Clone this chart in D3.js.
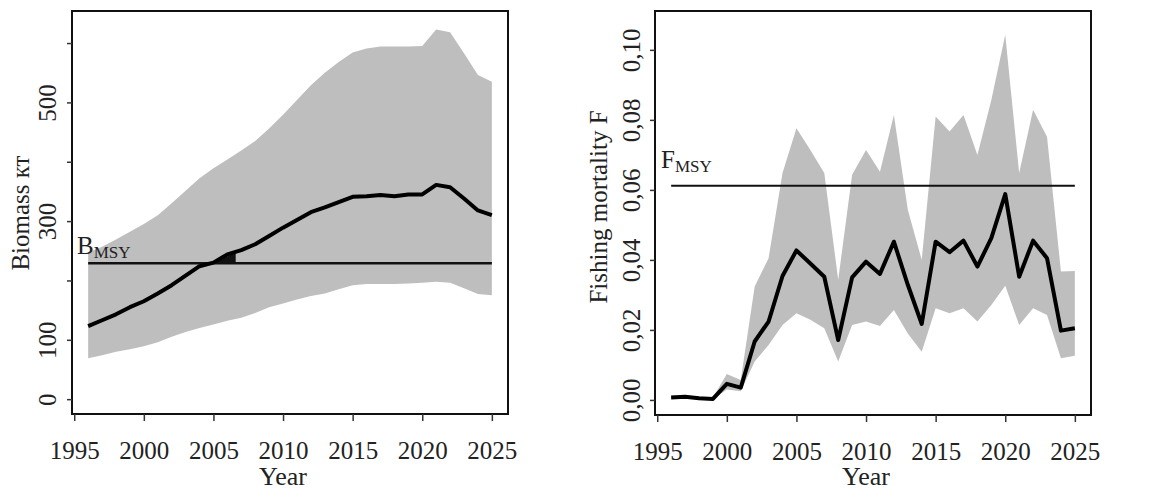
<!DOCTYPE html>
<html>
<head>
<meta charset="utf-8">
<script src="https://cdn.jsdelivr.net/npm/d3@7"></script>
<style>
  body { margin: 0; background: #fff; }
  svg { display: block; font-family: "Liberation Serif", "DejaVu Serif", serif; }
</style>
</head>
<body>
<svg id="chart" width="1158" height="491"></svg>
<script>
const YEARS = d3.range(1996, 2026);

const BIOMASS = [123, 133, 143, 155, 165, 178, 192, 208, 224, 230,
  244, 251, 261, 275, 289, 302, 315, 323, 332, 341,
  342, 344, 342, 345, 345, 361, 357, 338, 318, 310];
const BIOMASS_HI = [247, 257, 269, 282, 295, 310, 330, 351, 372, 389,
  404, 419, 435, 456, 479, 504, 529, 550, 568, 584,
  591, 594, 594, 594, 595, 623, 618, 583, 546, 535];
const BIOMASS_LO = [69, 74, 80, 84, 89, 96, 105, 113, 120, 126,
  132, 137, 145, 155, 161, 168, 174, 178, 185, 192,
  194, 194, 194, 195, 196, 198, 196, 187, 177, 175];
const B_MSY = 229;

const FMORT = [0.0007, 0.0009, 0.0005, 0.0003, 0.0046, 0.0035, 0.0167, 0.0224, 0.0354, 0.0427,
  0.0390, 0.0352, 0.0171, 0.0350, 0.0395, 0.0360, 0.0452, 0.0329, 0.0217, 0.0452,
  0.0422, 0.0455, 0.0381, 0.0462, 0.0588, 0.0352, 0.0455, 0.0405, 0.0198, 0.0205];
const FMORT_HI = [0.0012, 0.0013, 0.0009, 0.0007, 0.0074, 0.0057, 0.0324, 0.0405, 0.0648, 0.0776,
  0.0714, 0.0648, 0.0343, 0.0643, 0.0714, 0.0652, 0.0814, 0.0543, 0.0400, 0.0810,
  0.0767, 0.0814, 0.0700, 0.0857, 0.1043, 0.0648, 0.0829, 0.0752, 0.0367, 0.0368];
const FMORT_LO = [0.0003, 0.0005, 0.0002, 0.0001, 0.0030, 0.0025, 0.0110, 0.0157, 0.0214, 0.0248,
  0.0229, 0.0205, 0.0110, 0.0214, 0.0224, 0.0211, 0.0257, 0.0190, 0.0138, 0.0262,
  0.0248, 0.0262, 0.0224, 0.0271, 0.0326, 0.0214, 0.0262, 0.0243, 0.0119, 0.0126];
const F_MSY = 0.0612;

const X_TICKS = [1995, 2000, 2005, 2010, 2015, 2020, 2025];
const B_TICKS = [0, 100, 200, 300, 400, 500, 600];
const B_TICK_LABELS = ['0', '100', '', '300', '', '500', ''];
const F_TICKS = [0, 0.02, 0.04, 0.06, 0.08, 0.10];

const BAND = '#bebebe';
const TEXT = '#222';

const svg = d3.select('#chart');

function panel(opt) {
  const x = d3.scaleLinear().domain([1994.84, 2026.16]).range(opt.xr);
  const y = d3.scaleLinear().domain(opt.yd).range([opt.bottom, opt.top]);
  const g = svg.append('g');

  const pts = YEARS.map((yr, i) => ({ yr, v: opt.mid[i], hi: opt.hi[i], lo: opt.lo[i] }));

  g.append('path')
    .datum(pts)
    .attr('fill', BAND)
    .attr('d', d3.area().x(d => x(d.yr)).y0(d => y(d.lo)).y1(d => y(d.hi)));

  g.append('line')
    .attr('x1', x(1996)).attr('x2', x(2025))
    .attr('y1', y(opt.ref)).attr('y2', y(opt.ref))
    .attr('stroke', '#111').attr('stroke-width', opt.refWidth);

  if (opt.extra) opt.extra(g, x, y);

  g.append('path')
    .datum(pts)
    .attr('fill', 'none')
    .attr('stroke', '#000')
    .attr('stroke-width', 4)
    .attr('stroke-linejoin', 'round')
    .attr('d', d3.line().x(d => x(d.yr)).y(d => y(d.v)));

  // box
  g.append('rect')
    .attr('x', opt.xr[0]).attr('y', opt.top)
    .attr('width', opt.xr[1] - opt.xr[0]).attr('height', opt.bottom - opt.top)
    .attr('fill', 'none').attr('stroke', '#111').attr('stroke-width', 2);

  const xa = g.append('g')
    .attr('transform', `translate(0,${opt.bottom})`)
    .call(d3.axisBottom(x).tickValues(X_TICKS).tickFormat(d3.format('d')).tickSize(7).tickPadding(20));
  xa.select('.domain').remove();
  xa.selectAll('line').attr('stroke', '#333').attr('stroke-width', 1.5);
  xa.selectAll('text').attr('font-size', 25).attr('fill', TEXT).attr('font-family', '"Liberation Serif", serif');

  const ya = g.append('g')
    .attr('transform', `translate(${opt.xr[0]},0)`)
    .call(d3.axisLeft(y).tickValues(opt.ticks).tickFormat((d, i) => opt.tickLabels[i]).tickSize(5).tickPadding(0));
  ya.select('.domain').remove();
  ya.selectAll('line').attr('stroke', '#333').attr('stroke-width', 1.5);
  ya.selectAll('text')
    .attr('font-size', 25).attr('fill', TEXT).attr('font-family', '"Liberation Serif", serif')
    .attr('x', null).attr('dy', null)
    .attr('text-anchor', 'middle')
    .attr('transform', `translate(${opt.tickLabelX - opt.xr[0]},0) rotate(-90)`)
    .attr('dominant-baseline', 'central');

  g.append('text')
    .attr('x', (x(1995) + x(2025)) / 2).attr('y', 485)
    .attr('text-anchor', 'middle')
    .attr('font-size', 26).attr('fill', TEXT)
    .text('Year');

  g.append('text')
    .attr('transform', `translate(${opt.titleX},${opt.titleY}) rotate(-90)`)
    .attr('text-anchor', 'middle')
    .attr('dominant-baseline', 'central')
    .attr('font-size', 25).attr('fill', TEXT)
    .text(opt.title);

  const lab = g.append('text')
    .attr('x', opt.labX).attr('y', y(opt.ref) - opt.labDy)
    .attr('font-size', 25).attr('fill', TEXT);
  lab.append('tspan').text(opt.lab);
  lab.append('tspan').attr('font-size', 17).attr('dy', 4).text('MSY');
}

panel({
  xr: [72, 508], top: 11, bottom: 414, yd: [-25, 654],
  mid: BIOMASS, hi: BIOMASS_HI, lo: BIOMASS_LO, ref: B_MSY, refWidth: 2.5,
  ticks: B_TICKS, tickLabels: B_TICK_LABELS, tickLabelX: 47,
  title: 'Biomass кт', titleX: 20, titleY: 213,
  lab: 'B', labX: 77, labDy: 9,
  extra: (g, x, y) => {
    g.append('path')
      .datum([[2004.9, B_MSY], [2006.6, B_MSY], [2006.6, 247]])
      .attr('fill', '#111')
      .attr('d', d3.line().x(d => x(d[0])).y(d => y(d[1])));
  }
});

panel({
  xr: [655, 1091], top: 11, bottom: 415, yd: [-0.0043, 0.1111],
  mid: FMORT, hi: FMORT_HI, lo: FMORT_LO, ref: F_MSY, refWidth: 2,
  ticks: F_TICKS, tickLabels: F_TICKS.map(d => d3.format('.2f')(d).replace('.', ',')), tickLabelX: 631,
  title: 'Fishing mortality F', titleX: 598, titleY: 207,
  lab: 'F', labX: 661, labDy: 18
});
</script>
</body>
</html>
